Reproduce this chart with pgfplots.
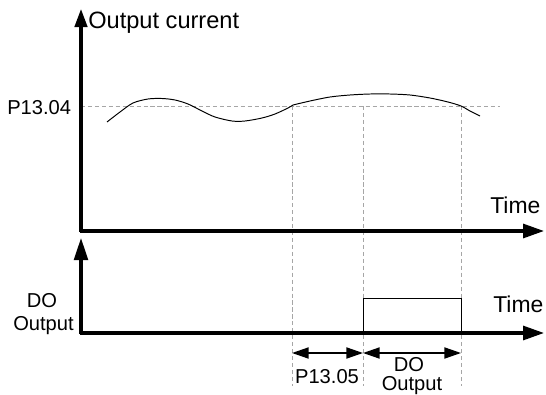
\documentclass[border=0pt]{standalone}
\usepackage{pgfplots}
\pgfplotsset{compat=1.18}
\usepackage{fontspec}
\setmainfont{Liberation Sans}
\usetikzlibrary{arrows.meta}
\begin{document}
\begin{tikzpicture}
\begin{axis}[
  scale only axis, width=393.12bp, height=284.4bp,
  xmin=0, xmax=546, ymin=0, ymax=395, y dir=reverse,
  axis lines=none, clip=false,
]
\addplot[draw=none] coordinates {(0,0) (546,395)};
% dashed guides
\addplot[gray!70, line width=0.6bp, dash pattern=on 3bp off 2bp] coordinates {(81,106) (500,106)};
\addplot[gray!70, line width=0.6bp, dash pattern=on 3bp off 2bp] coordinates {(292,106) (292,386)};
\addplot[gray!70, line width=0.6bp, dash pattern=on 3bp off 2bp] coordinates {(363,106) (363,386)};
\addplot[gray!70, line width=0.6bp, dash pattern=on 3bp off 2bp] coordinates {(461,106) (461,386)};
% current curve
\addplot[black, line width=0.7bp, smooth] coordinates {
(107,122) (120,112) (133,103) (148,99) (162,98.5) (175,100) (188,104) (202,111) (215,117) (232,121) (245,121) (262,118) (275,114) (288,108) (293,105)};
\addplot[black, line width=0.7bp, smooth] coordinates {
(293,105) (310,101) (330,97) (350,95) (370,94) (390,94) (410,95) (430,98) (448,102) (461,106) (470,111) (480,116)};
% upper axes
\addplot[black, line width=2.2bp, -{Triangle[length=13bp,width=9bp]}] coordinates {(81,232) (81,9)};
\addplot[black, line width=2.2bp, -{Triangle[length=15bp,width=10bp]}] coordinates {(80,231) (544,231)};
% lower axes
\addplot[black, line width=2.2bp, -{Triangle[length=16bp,width=10bp]}] coordinates {(81,334) (81,238)};
\addplot[black, line width=2.2bp, -{Triangle[length=15bp,width=10bp]}] coordinates {(80,333) (544,333)};
% pulse
\addplot[black, line width=0.7bp] coordinates {(363,333) (363,298) (461,298) (461,333)};
% double arrows
\addplot[black, line width=1.1bp, {Triangle[length=12bp,width=8bp]}-{Triangle[length=12bp,width=8bp]}] coordinates {(292,353) (363,353)};
\addplot[black, line width=1.1bp, {Triangle[length=12bp,width=8bp]}-{Triangle[length=12bp,width=8bp]}] coordinates {(363,353) (461,353)};
% texts
\node[anchor=base west, font=\fontsize{17bp}{18bp}\selectfont, inner sep=0pt] at (axis cs:88,28.5) {Output current};
\node[anchor=base west, font=\fontsize{14.5bp}{16bp}\selectfont, inner sep=0pt] at (axis cs:7,115) {P13.04};
\node[anchor=base west, font=\fontsize{16.5bp}{18bp}\selectfont, inner sep=0pt] at (axis cs:490,213) {Time};
\node[anchor=base west, font=\fontsize{16.5bp}{18bp}\selectfont, inner sep=0pt] at (axis cs:493,312) {Time};
\node[anchor=base, font=\fontsize{14.5bp}{16bp}\selectfont, inner sep=0pt] at (axis cs:42,307) {DO};
\node[anchor=base, font=\fontsize{14.5bp}{16bp}\selectfont, inner sep=0pt] at (axis cs:43.5,330) {Output};
\node[anchor=base, font=\fontsize{14.5bp}{16bp}\selectfont, inner sep=0pt] at (axis cs:327,383) {P13.05};
\node[anchor=base, font=\fontsize{14.5bp}{16bp}\selectfont, inner sep=0pt] at (axis cs:409,371) {DO};
\node[anchor=base, font=\fontsize{14.5bp}{16bp}\selectfont, inner sep=0pt] at (axis cs:412,390) {Output};
\end{axis}
\end{tikzpicture}
\end{document}
